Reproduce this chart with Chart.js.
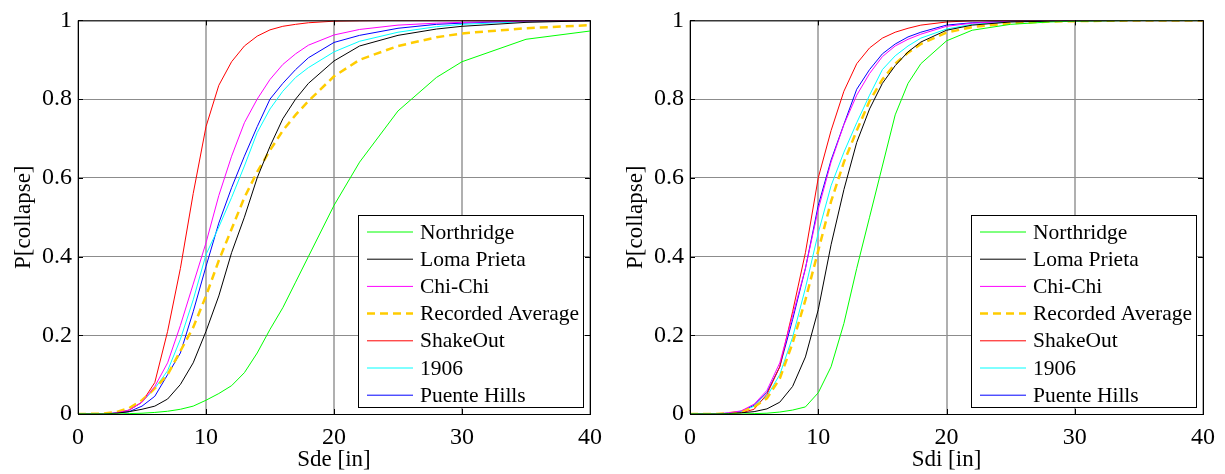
<!DOCTYPE html>
<html>
<head>
<meta charset="utf-8">
<script src="https://cdn.jsdelivr.net/npm/chart.js@4"></script>
<style>
  body{margin:0;background:#fff;}
  .panel{position:absolute;top:0;height:474px;}
</style>
</head>
<body>
<div class="panel" style="left:0;width:612px"><canvas id="left" width="612" height="474"></canvas></div>
<div class="panel" style="left:612px;width:613px"><canvas id="right" width="613" height="474"></canvas></div>
<script>
// x positions (in) shared by every curve
const xs=[0,2,3,4,5,6,7,8,9,10,11,12,13,14,15,16,17,18,20,22,25,28,30,35,40];

const labels=["Northridge","Loma Prieta","Chi-Chi","Recorded Average","ShakeOut","1906","Puente Hills"];
const colors=["#00ff00","#000000","#ff00ff","#ffcc00","#ff0000","#00ffff","#0000ff"];

// Sde panel
const sdeNorthridge=[0,0,0,0.001,0.002,0.004,0.007,0.012,0.02,0.035,0.052,0.072,0.105,0.155,0.215,0.27,0.335,0.4,0.53,0.64,0.77,0.855,0.895,0.952,0.973];
const sdeLoma=[0,0,0.002,0.006,0.012,0.02,0.038,0.075,0.13,0.21,0.3,0.41,0.5,0.6,0.68,0.75,0.8,0.84,0.897,0.935,0.962,0.978,0.985,0.995,0.999];
const sdeChiChi=[0,0,0.003,0.01,0.03,0.07,0.13,0.225,0.33,0.435,0.555,0.655,0.74,0.8,0.85,0.888,0.915,0.937,0.963,0.977,0.988,0.993,0.995,0.998,0.999];
const sdeAverage=[0,0.001,0.005,0.015,0.035,0.065,0.1,0.16,0.22,0.3,0.39,0.47,0.55,0.615,0.67,0.72,0.76,0.795,0.858,0.9,0.935,0.957,0.967,0.98,0.988];
const sdeShakeOut=[0,0,0.002,0.01,0.03,0.08,0.21,0.37,0.56,0.73,0.835,0.895,0.935,0.96,0.976,0.985,0.99,0.994,0.998,0.999,1,1,1,1,1];
const sde1906=[0,0,0.003,0.01,0.03,0.065,0.11,0.19,0.29,0.405,0.475,0.55,0.63,0.715,0.775,0.82,0.855,0.88,0.92,0.947,0.97,0.984,0.99,0.997,0.999];
const sdePuente=[0,0,0.002,0.006,0.02,0.045,0.1,0.155,0.26,0.375,0.485,0.575,0.655,0.73,0.8,0.84,0.875,0.905,0.944,0.962,0.98,0.99,0.993,0.998,1];

// Sdi panel
const sdiNorthridge=[0,0,0,0,0.001,0.002,0.005,0.01,0.018,0.054,0.12,0.23,0.37,0.5,0.63,0.76,0.84,0.89,0.948,0.975,0.99,0.996,0.998,1,1];
const sdiLoma=[0,0,0.001,0.003,0.006,0.013,0.03,0.07,0.145,0.265,0.43,0.57,0.69,0.775,0.84,0.885,0.92,0.945,0.975,0.988,0.996,0.998,0.999,1,1];
const sdiChiChi=[0,0,0.003,0.008,0.025,0.06,0.13,0.25,0.37,0.52,0.64,0.735,0.81,0.865,0.908,0.935,0.952,0.965,0.985,0.993,0.998,0.999,1,1,1];
const sdiAverage=[0,0,0.002,0.006,0.018,0.04,0.09,0.18,0.29,0.415,0.54,0.64,0.72,0.795,0.85,0.89,0.918,0.94,0.969,0.983,0.993,0.997,0.998,1,1];
const sdiShakeOut=[0,0,0.001,0.003,0.012,0.05,0.12,0.26,0.41,0.6,0.72,0.82,0.89,0.93,0.955,0.97,0.98,0.988,0.996,0.999,1,1,1,1,1];
const sdi1906=[0,0,0.002,0.006,0.02,0.045,0.1,0.195,0.32,0.46,0.58,0.665,0.74,0.81,0.875,0.91,0.935,0.955,0.978,0.99,0.997,0.999,1,1,1];
const sdiPuente=[0,0,0.002,0.007,0.022,0.055,0.12,0.24,0.37,0.53,0.645,0.736,0.825,0.875,0.915,0.94,0.958,0.97,0.988,0.994,0.998,0.999,1,1,1];

const xTicks=[0,10,20,30,40];
const yTicks=[0,0.2,0.4,0.6,0.8,1];

const serif="'Liberation Serif','Times New Roman',serif";

function makeSets(series){
  return series.map((ys,i)=>({
    label:labels[i],
    data:ys.map((y,k)=>({x:xs[k],y:y})),
    borderColor:colors[i],
    borderWidth:labels[i]=="Recorded Average"?2.5:1,
    borderDash:labels[i]=="Recorded Average"?[8,5]:[],
    pointRadius:0,
    tension:0,
    fill:false
  }));
}

// box round the axes + legend inside the bottom right corner
const framePlugin={
  id:"frame",
  afterDraw(chart){
    const a=chart.chartArea, c=chart.ctx;
    c.save();
    c.strokeStyle="#000";c.lineWidth=1;
    c.strokeRect(a.left+0.5,a.top+0.5,a.right-a.left,a.bottom-a.top);
    // tick marks pointing inward
    const sx=chart.scales.x, sy=chart.scales.y;
    c.beginPath();
    xTicks.forEach(t=>{const p=Math.round(sx.getPixelForValue(t))+0.5;c.moveTo(p,a.bottom);c.lineTo(p,a.bottom-5);c.moveTo(p,a.top);c.lineTo(p,a.top+5);});
    yTicks.forEach(t=>{const p=Math.round(sy.getPixelForValue(t))+0.5;c.moveTo(a.left,p);c.lineTo(a.left+5,p);c.moveTo(a.right,p);c.lineTo(a.right-5,p);});
    c.stroke();
    // legend
    const w=225,h=192;
    const bx=a.right-7-w, by=a.bottom-7-h;
    c.fillStyle="#fff";c.fillRect(bx,by,w,h);
    c.strokeRect(bx+0.5,by+0.5,w,h);
    c.font="21.5px "+serif;c.textBaseline="middle";c.fillStyle="#000";
    chart.data.datasets.forEach((ds,i)=>{
      const y=by+17+i*27.2;
      c.strokeStyle=ds.borderColor;c.lineWidth=ds.borderWidth;
      c.setLineDash(ds.borderDash);
      c.beginPath();c.moveTo(bx+9,y);c.lineTo(bx+55,y);c.stroke();
      c.setLineDash([]);
      c.fillText(ds.label,bx+62,y+1);
    });
    c.restore();
  }
};

function makeChart(id,series,xTitle){
  return new Chart(document.getElementById(id),{
    type:"line",
    data:{datasets:makeSets(series)},
    options:{
      responsive:false,animation:false,devicePixelRatio:1,
      layout:{padding:{top:17,right:22,left:0,bottom:0}},
      plugins:{legend:{display:false},tooltip:{enabled:false}},
      scales:{
        x:{type:"linear",min:0,max:40,
          afterBuildTicks:s=>{s.ticks=xTicks.map(v=>({value:v}));},
          afterFit:s=>{s.height=60;},
          ticks:{font:{family:serif,size:24},color:"#000",padding:9,callback:v=>String(v)},
          grid:{color:"#b0b0b0",lineWidth:2,drawTicks:false},
          border:{display:false},
          title:{display:true,text:xTitle,font:{family:serif,size:23},color:"#000",padding:{top:0,bottom:0}}
        },
        y:{type:"linear",min:0,max:1,
          afterBuildTicks:s=>{s.ticks=yTicks.map(v=>({value:v}));},
          afterFit:s=>{s.width=78;},
          ticks:{font:{family:serif,size:24},color:"#000",padding:6,callback:v=>String(+v.toFixed(1))},
          grid:{color:"#8c8c8c",lineWidth:1,drawTicks:false},
          border:{display:false},
          title:{display:true,text:"P[collapse]",font:{family:serif,size:23},color:"#000",padding:{top:10,bottom:0}}
        }
      }
    },
    plugins:[framePlugin]
  });
}

makeChart("left",[sdeNorthridge,sdeLoma,sdeChiChi,sdeAverage,sdeShakeOut,sde1906,sdePuente],"Sde [in]");
makeChart("right",[sdiNorthridge,sdiLoma,sdiChiChi,sdiAverage,sdiShakeOut,sdi1906,sdiPuente],"Sdi [in]");
</script>
</body>
</html>
